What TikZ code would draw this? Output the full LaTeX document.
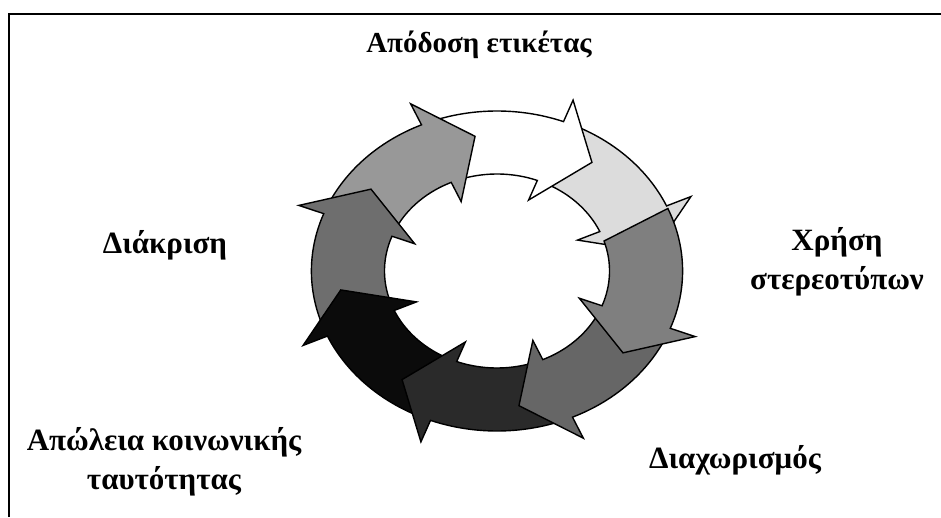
\documentclass[tikz,border=0pt]{standalone}
\usepackage{fontspec}
\setmainfont{Liberation Serif}
\newcommand{\ringarrow}[2]{%
  \pgfmathsetmacro{\tb}{#1}%
  \pgfmathsetmacro{\tti}{#1+39}%
  \pgfmathsetmacro{\tto}{#1+44}%
  \pgfmathsetmacro{\ttip}{#1-16}%
  \filldraw[arrowshape, fill=#2] (\tto:160) arc[start angle=\tto, end angle=\tb, radius=160]
    -- (\tb:183) -- (\ttip:136) -- (\tb:76) -- (\tb:97)
    arc[start angle=\tb, end angle=\tti, radius=97] -- cycle;
}
\definecolor{cA}{HTML}{989898}
\definecolor{cB}{HTML}{FFFFFF}
\definecolor{cC}{HTML}{DCDCDC}
\definecolor{cD}{HTML}{7F7F7F}
\definecolor{cE}{HTML}{666666}
\definecolor{cF}{HTML}{2A2A2A}
\definecolor{cG}{HTML}{0B0B0B}
\definecolor{cH}{HTML}{6E6E6E}
\begin{document}
\begin{tikzpicture}[x=1pt,y=1pt,
  arrowshape/.style={draw=black, line width=1.4pt, line join=miter, miter limit=10},
  lbl/.style={font=\fontsize{31}{39}\selectfont\bfseries, align=center, inner sep=0pt}]
\useasboundingbox (0,0) rectangle (941,517);
\draw[line width=2pt] (8.5,0) -- (8.5,502.5) -- (941,502.5);
\begin{scope}[shift={(497,246)}, xscale=1.16]
  \ringarrow{24}{cC}
  \ringarrow{69}{cB}
  \ringarrow{114}{cA}
  \ringarrow{159}{cH}
  \ringarrow{204}{cG}
  \ringarrow{249}{cF}
  \ringarrow{294}{cE}
  \ringarrow{339}{cD}
\end{scope}
\node[lbl, font=\fontsize{29}{37}\selectfont\bfseries] (top) at (479,472) {Απόδοση ετικέτας};
\node[lbl] (left) at (165,272) {Διάκριση};
\node[lbl] (right) at (837,255) {Χρήση\\στερεοτύπων};
\node[lbl] (br) at (735,57) {Διαχωρισμός};
\node[lbl] (bl) at (164,55) {Απώλεια κοινωνικής\\ταυτότητας};
\end{tikzpicture}
\end{document}
